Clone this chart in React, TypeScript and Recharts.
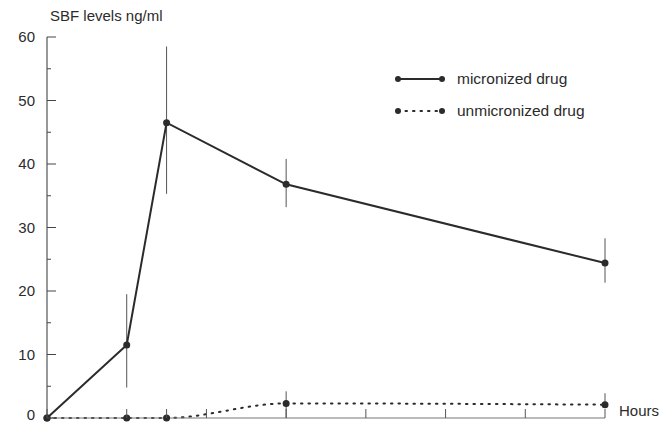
import React from 'react';
import { LineChart, Line, XAxis, YAxis, ErrorBar } from 'recharts';

const hours = [0, 2, 3, 6, 14];
const micronized = [0, 11.5, 46.5, 36.8, 24.4];
const micronizedErr: [number, number][] = [[0, 0], [6.7, 8.0], [11.2, 12.0], [3.6, 4.0], [3.1, 3.9]];
const unmicronized = [0, 0, 0, 2.3, 2.1];
const unmicronizedErr: [number, number][] = [[0, 0], [0, 0], [0, 0], [2.3, 1.9], [0.4, 1.8]];
const xTicks = [0, 2, 3, 4, 6, 8, 10, 12, 14];
const yTicks = [0, 5, 10, 15, 20, 25, 30, 35, 40, 45, 50, 55, 60];

const data = hours.map((h, i) => ({
  h,
  micro: micronized[i],
  microErr: micronizedErr[i],
  unmicro: unmicronized[i],
  unmicroErr: unmicronizedErr[i],
}));

const FONT = '"Liberation Sans", Arial, sans-serif';
const INK = '#2b2b2b';

const YTick = ({ x, y, payload }: any) => {
  const major = payload.value % 10 === 0;
  return (
    <g>
      <line x1={x} x2={x + (major ? 9 : 4)} y1={y} y2={y} stroke="#444" strokeWidth={1} />
      {major && (
        <text x={x - 12} y={y} dy={payload.value === 0 ? 2 : 5} textAnchor="end" fontSize={15} fill={INK} fontFamily={FONT}>
          {payload.value}
        </text>
      )}
    </g>
  );
};

const XTick = ({ x, y }: any) => (
  <line x1={x} x2={x} y1={y} y2={y - 9} stroke="#555" strokeWidth={1} />
);

const LegendBox = () => (
  <div style={{ position: 'absolute', left: 394, top: 68, fontFamily: FONT, fontSize: 15.5, color: INK }}>
    <div style={{ display: 'flex', alignItems: 'center', height: 22 }}>
      <svg width={54} height={10}>
        <line x1={4} x2={48} y1={5} y2={5} stroke={INK} strokeWidth={2} />
        <circle cx={4} cy={5} r={3} fill={INK} />
        <circle cx={48} cy={5} r={3} fill={INK} />
      </svg>
      <span style={{ marginLeft: 9 }}>micronized drug</span>
    </div>
    <div style={{ display: 'flex', alignItems: 'center', height: 22, marginTop: 10 }}>
      <svg width={54} height={10}>
        <line x1={4} x2={48} y1={5} y2={5} stroke={INK} strokeWidth={2} strokeDasharray="1.5 6" strokeLinecap="round" />
        <circle cx={4} cy={5} r={3} fill={INK} />
        <circle cx={48} cy={5} r={3} fill={INK} />
      </svg>
      <span style={{ marginLeft: 9 }}>unmicronized drug</span>
    </div>
  </div>
);

export default function App() {
  return (
    <div style={{ position: 'absolute', left: 0, top: 0, width: 663, height: 424, background: '#fff' }}>
      <LineChart width={663} height={424} data={data} margin={{ top: 37, right: 58, left: 0, bottom: 0 }}>
        <XAxis
          dataKey="h"
          type="number"
          domain={[0, 14]}
          ticks={xTicks}
          height={6}
          tickSize={0}
          tickMargin={0}
          tick={<XTick />}
          stroke="#777"
        />
        <YAxis
          type="number"
          domain={[0, 60]}
          ticks={yTicks}
          width={47}
          tickSize={0}
          tickMargin={0}
          tick={<YTick />}
          stroke="#333"
          interval={0}
        />
        <Line
          type="monotone"
          dataKey="unmicro"
          stroke={INK}
          strokeWidth={2}
          strokeDasharray="1.5 6"
          strokeLinecap="round"
          dot={{ r: 3.5, fill: INK, stroke: INK, strokeWidth: 0 }}
          isAnimationActive={false}
        >
          <ErrorBar dataKey="unmicroErr" direction="y" width={0} stroke="#555" strokeWidth={1} />
        </Line>
        <Line
          type="linear"
          dataKey="micro"
          stroke={INK}
          strokeWidth={2}
          dot={{ r: 3.5, fill: INK, stroke: INK, strokeWidth: 0 }}
          isAnimationActive={false}
        >
          <ErrorBar dataKey="microErr" direction="y" width={0} stroke="#555" strokeWidth={1} />
        </Line>
      </LineChart>
      <LegendBox />
      <div style={{ position: 'absolute', left: 50, top: 7, fontFamily: FONT, fontSize: 15, color: INK }}>
        SBF levels ng/ml
      </div>
      <div style={{ position: 'absolute', left: 619, top: 402, fontFamily: FONT, fontSize: 15, color: INK }}>
        Hours
      </div>
    </div>
  );
}
